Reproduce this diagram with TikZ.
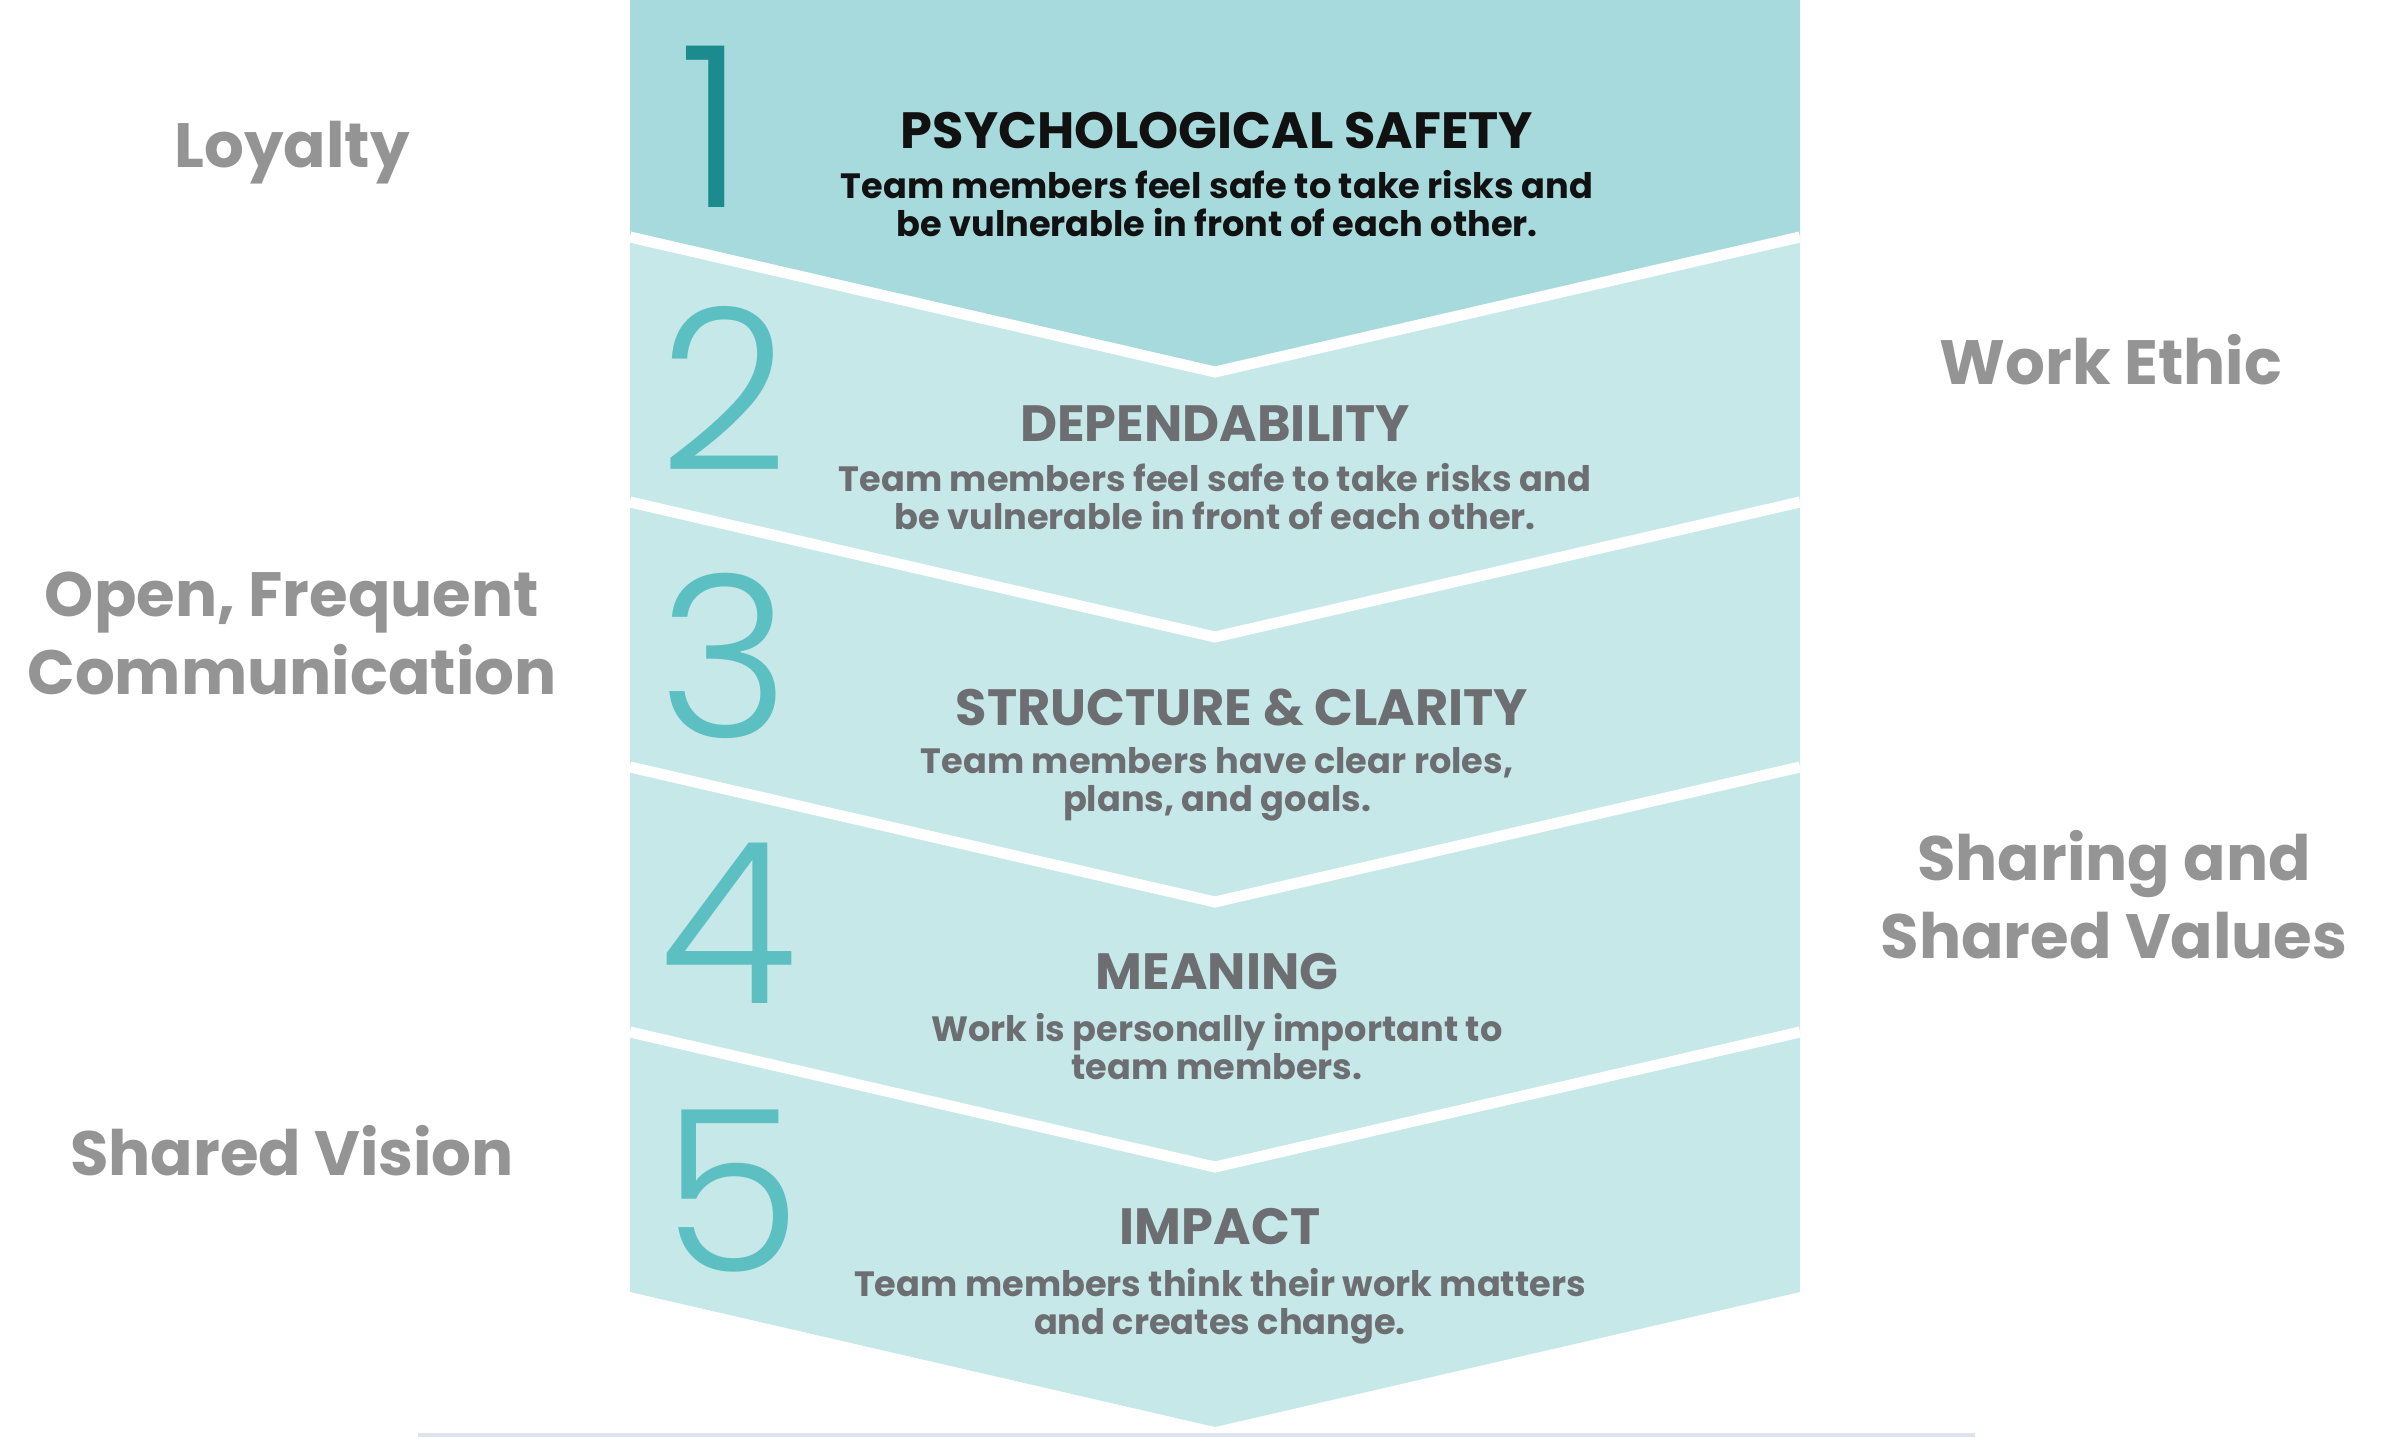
\documentclass[tikz,border=0pt]{standalone}
\usepackage{fontspec}
\setmainfont{Poppins}
\newfontfamily\numfont{Poppins}[UprightFont={* Light}]
\usetikzlibrary{positioning}
\definecolor{ink}{HTML}{111111}
\definecolor{slate}{HTML}{6D6E71}
\definecolor{sidegray}{HTML}{949494}
\definecolor{topfill}{HTML}{A7DADC}
\definecolor{bandfill}{HTML}{C6E8E9}
\definecolor{numdark}{HTML}{1B8B8D}
\definecolor{numlight}{HTML}{5CC0C2}
\definecolor{stripfill}{HTML}{DDE3EC}
\tikzset{
  heading/.style={font=\bfseries\fontsize{14.5}{16}\selectfont, text=slate, inner sep=0pt},
  blurb/.style={font=\bfseries\fontsize{10}{10.8}\selectfont, text=slate, align=center, inner sep=0pt, anchor=north},
  numeral/.style={font=\numfont\fontsize{64}{64}\selectfont, text=numlight, inner sep=0pt, anchor=base},
  sidelabel/.style={font=\bfseries\fontsize{17.8}{22.2}\selectfont, text=sidegray, align=center, inner sep=0pt, anchor=south},
  divider/.style={draw=white, line width=1.1mm}
}

\begin{document}
\begin{tikzpicture}[x=0.01cm, y=-0.01cm]
  \useasboundingbox (0,0) rectangle (2382,1437);

  % chevron bands
  \fill[bandfill] (630,237) -- (1215,372) -- (1800,237) -- (1800,1292) -- (1215,1427) -- (630,1292) -- cycle;
  \fill[topfill] (630,0) -- (1800,0) -- (1800,237) -- (1215,372) -- (630,237) -- cycle;
  \begin{scope}
    \clip (630,0) rectangle (1800,1437);
    \draw[divider] (630,237) -- (1215,372) -- (1800,237);
    \draw[divider] (630,502) -- (1215,637) -- (1800,502);
    \draw[divider] (630,767) -- (1215,902) -- (1800,767);
    \draw[divider] (630,1032) -- (1215,1167) -- (1800,1032);
  \end{scope}
  \fill[stripfill] (418,1433) rectangle (1975,1437);

  % step numbers
  \node[numeral, text=numdark] (n1) at (712,208) {1};
  \node[numeral] (n2) at (724,471) {2};
  \node[numeral] (n3) at (724,738) {3};
  \node[numeral] (n4) at (728,1003) {4};
  \node[numeral] (n5) at (732,1271) {5};

  % step texts
  \node[heading, text=ink] (t1) at (1217,131) {PSYCHOLOGICAL SAFETY};
  \node[blurb, text=ink] (d1) at (1217,170) {Team members feel safe to take risks and\\be vulnerable in front of each other.};
  \node[heading] (t2) at (1215,424) {DEPENDABILITY};
  \node[blurb] (d2) at (1215,463) {Team members feel safe to take risks and\\be vulnerable in front of each other.};
  \node[heading] (t3) at (1242,708) {STRUCTURE \& CLARITY};
  \node[blurb] (d3) at (1217,747) {Team members have clear roles,\\plans, and goals.};
  \node[heading] (t4) at (1217,972) {MEANING};
  \node[blurb] (d4) at (1217,1013) {Work is personally important to\\team members.};
  \node[heading] (t5) at (1220,1227) {IMPACT};
  \node[blurb] (d5) at (1220,1268) {Team members think their work matters\\and creates change.};

  % side values
  \node[sidelabel, anchor=base] (loyalty) at (292,168) {Loyalty};
  \node[sidelabel] (comm) at (292,696) {Open, Frequent\\Communication};
  \node[sidelabel] (vision) at (292,1177) {Shared Vision};
  \node[sidelabel] (ethic) at (2111,386) {Work Ethic};
  \node[sidelabel] (values) at (2114,960) {Sharing and\\Shared Values};
\end{tikzpicture}
\end{document}
